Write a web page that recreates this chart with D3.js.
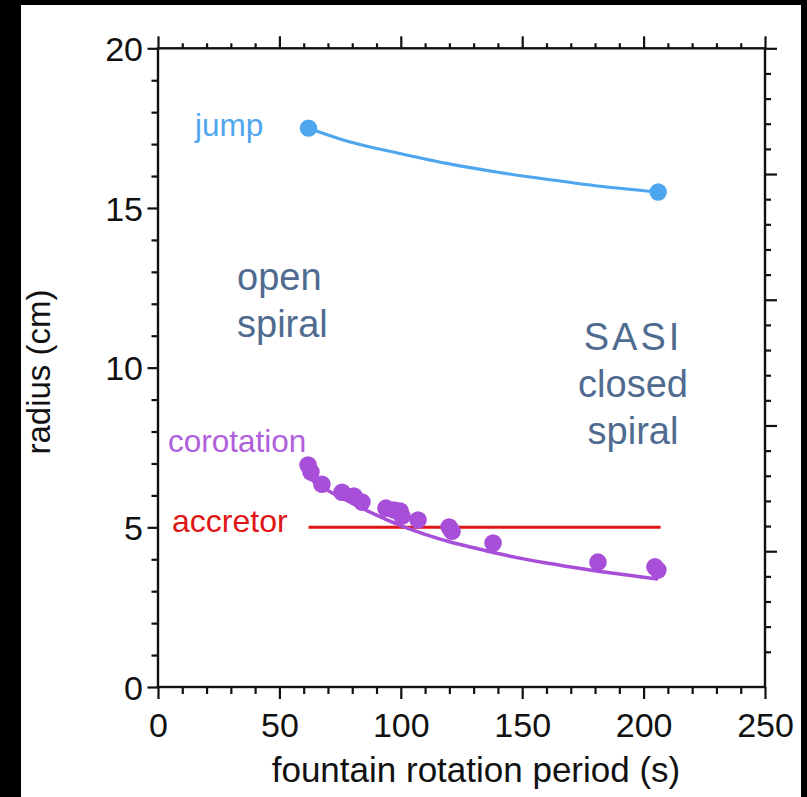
<!DOCTYPE html>
<html>
<head>
<meta charset="utf-8">
<script src="https://cdn.jsdelivr.net/npm/d3@7"></script>
<style>
  body { margin: 0; background: #000; }
  svg { display: block; }
  text { font-family: "Liberation Sans", Arial, Helvetica, sans-serif; }
</style>
</head>
<body>
<svg id="chart" width="807" height="797"></svg>
<script>
// Axis ticks
const periodTicks = [0, 50, 100, 150, 200, 250];
const radiusTicks = [0, 5, 10, 15, 20];

// Jump radius: measured points and fitted curve (period s, radius cm)
const jumpPeriods = [62, 206];
const jumpRadii = [17.5, 15.5];
const jumpFitPeriods = [62, 80, 100, 120, 140, 160, 182, 206];
const jumpFitRadii = [17.5, 17.05, 16.7, 16.38, 16.12, 15.9, 15.68, 15.5];

// Corotation radius: measured points and fitted curve
const corotationPeriods = [61.8, 63.0, 67.5, 75.8, 80.7, 84.0, 93.9, 97.2, 99.7, 100.5, 107.1, 119.9, 121.1, 138.0, 181.2, 204.7, 205.9];
const corotationRadii = [6.95, 6.73, 6.35, 6.10, 5.98, 5.79, 5.60, 5.54, 5.51, 5.35, 5.23, 5.01, 4.88, 4.51, 3.91, 3.76, 3.66];
const corotationFitPeriods = [62, 70, 80, 90, 100, 110, 120, 130, 140, 150, 160, 170, 180, 190, 200, 206];
const corotationFitRadii = [6.55, 6.15, 5.75, 5.38, 5.05, 4.78, 4.55, 4.36, 4.18, 4.02, 3.88, 3.76, 3.64, 3.54, 3.44, 3.38];

// Accretor radius (constant)
const accretorPeriods = [62, 207];
const accretorRadii = [5, 5];

const svg = d3.select("#chart");

// white page area inside the black border
svg.append("rect").attr("x", 21).attr("y", 5).attr("width", 780).attr("height", 792).attr("fill", "#fff");

const plotLeft = 158, plotRight = 765, plotTop = 48.3, plotBottom = 687;
const x = d3.scaleLinear().domain([0, 250]).range([plotLeft, plotRight]);
const y = d3.scaleLinear().domain([0, 20]).range([plotBottom, plotTop]);
// secondary scale on the right edge (ticks only)
const yRight = d3.scaleLinear().domain([0, 25.4]).range([plotTop, plotBottom]);

const ink = "#111";

// bottom axis
const gBottom = svg.append("g")
  .attr("transform", `translate(0,${plotBottom})`)
  .call(d3.axisBottom(x).tickValues(d3.range(0, 251, 10)).tickSize(7)
    .tickFormat(d => periodTicks.includes(d) ? d : ""));
gBottom.select(".domain").remove();
gBottom.selectAll(".tick line").attr("stroke", ink).attr("stroke-width", 2.2)
  .attr("y1", 0).attr("y2", d => periodTicks.includes(d) ? 12 : 7);
gBottom.selectAll(".tick text")
  .attr("y", 50).attr("dy", 0)
  .attr("fill", ink).style("font-size", "34px");

// top axis
const gTop = svg.append("g")
  .attr("transform", `translate(0,${plotTop})`)
  .call(d3.axisTop(x).tickValues(d3.range(0, 251, 10)).tickSize(5).tickFormat(""));
gTop.select(".domain").remove();
gTop.selectAll(".tick line").attr("stroke", ink).attr("stroke-width", 2.2)
  .attr("y1", 0).attr("y2", d => periodTicks.includes(d) ? -12 : -5);

// left axis
const gLeft = svg.append("g")
  .attr("transform", `translate(${plotLeft},0)`)
  .call(d3.axisLeft(y).tickValues(d3.range(0, 21, 1)).tickSize(6.5)
    .tickFormat(d => radiusTicks.includes(d) ? d : ""));
gLeft.select(".domain").remove();
gLeft.selectAll(".tick line").attr("stroke", ink).attr("stroke-width", 2.2)
  .attr("x1", 0).attr("x2", d => radiusTicks.includes(d) ? -10.5 : -6.5);
gLeft.selectAll(".tick text")
  .attr("x", -15).attr("dy", "0.36em")
  .attr("fill", ink).style("font-size", "34px");

// right axis (ticks only)
const gRight = svg.append("g")
  .attr("transform", `translate(${plotRight},0)`)
  .call(d3.axisRight(yRight).tickValues(d3.range(0, 25, 1)).tickSize(6).tickFormat(""));
gRight.select(".domain").remove();
gRight.selectAll(".tick line").attr("stroke", ink).attr("stroke-width", 2.2)
  .attr("x1", 0).attr("x2", d => d % 5 === 0 ? 12 : 6);

// frame
svg.append("rect")
  .attr("x", plotLeft).attr("y", plotTop)
  .attr("width", plotRight - plotLeft).attr("height", plotBottom - plotTop)
  .attr("fill", "none").attr("stroke", ink).attr("stroke-width", 2.4);

// axis titles
svg.append("text")
  .attr("x", 476).attr("y", 782)
  .attr("text-anchor", "middle")
  .attr("fill", ink).style("font-size", "35px")
  .text("fountain rotation period (s)");

svg.append("text")
  .attr("transform", "translate(50,372) rotate(-90)")
  .attr("text-anchor", "middle")
  .attr("fill", ink).style("font-size", "33px")
  .text("radius (cm)");

const line = d3.line().x(d => x(d[0])).y(d => y(d[1])).curve(d3.curveMonotoneX);

// colours
const jumpColor = "#4ea6ef";
const coroColor = "#a84fd9";
const accColor = "#e01515";
const regionColor = "#4f6b8f";

// accretor
svg.append("path")
  .datum(d3.zip(accretorPeriods, accretorRadii))
  .attr("d", line)
  .attr("fill", "none").attr("stroke", accColor).attr("stroke-width", 3);

// jump fit and points
svg.append("path")
  .datum(d3.zip(jumpFitPeriods, jumpFitRadii))
  .attr("d", line)
  .attr("fill", "none").attr("stroke", jumpColor).attr("stroke-width", 3.2);
svg.selectAll("circle.jump")
  .data(d3.zip(jumpPeriods, jumpRadii))
  .join("circle").attr("class", "jump")
  .attr("cx", d => x(d[0])).attr("cy", d => y(d[1])).attr("r", 8.7)
  .attr("fill", jumpColor);

// corotation fit and points
svg.append("path")
  .datum(d3.zip(corotationFitPeriods, corotationFitRadii))
  .attr("d", line)
  .attr("fill", "none").attr("stroke", coroColor).attr("stroke-width", 3.5);
svg.selectAll("circle.coro")
  .data(d3.zip(corotationPeriods, corotationRadii))
  .join("circle").attr("class", "coro")
  .attr("cx", d => x(d[0])).attr("cy", d => y(d[1])).attr("r", 8.8)
  .attr("fill", coroColor);

// series labels
svg.append("text").attr("x", 195).attr("y", 136).attr("fill", jumpColor)
  .style("font-size", "31.5px").text("jump");
svg.append("text").attr("x", 168).attr("y", 452).attr("fill", "#b060dc")
  .style("font-size", "31.5px").text("corotation");
svg.append("text").attr("x", 172).attr("y", 532).attr("fill", accColor)
  .style("font-size", "32px").text("accretor");

// region labels
const openLines = ["open", "spiral"];
svg.append("g").selectAll("text").data(openLines).join("text")
  .attr("x", 237).attr("y", (d, i) => 290 + i * 47)
  .attr("fill", regionColor).style("font-size", "38px").text(d => d);

const sasiLines = ["SASI", "closed", "spiral"];
svg.append("g").selectAll("text").data(sasiLines).join("text")
  .attr("x", 633).attr("y", (d, i) => 350 + i * 47)
  .attr("text-anchor", "middle")
  .attr("letter-spacing", d => d === "SASI" ? "3px" : "0px")
  .attr("fill", regionColor).style("font-size", "38px").text(d => d);
</script>
</body>
</html>
